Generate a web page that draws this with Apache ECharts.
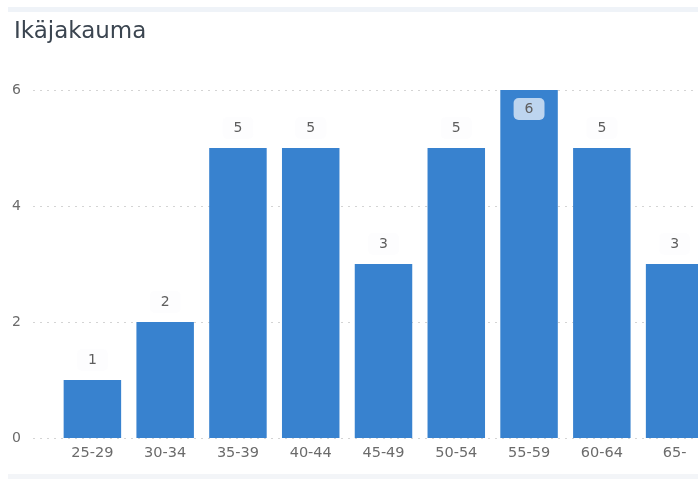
<!DOCTYPE html>
<html>
<head>
<meta charset="utf-8">
<script src="https://cdn.jsdelivr.net/npm/echarts@6/dist/echarts.min.js"></script>
<style>html,body{margin:0;padding:0;background:#fff;}#c{width:698px;height:479px;}</style>
</head>
<body>
<div id="c"></div>
<script>
const titleText = 'Ikäjakauma';
const categories = ['25-29','30-34','35-39','40-44','45-49','50-54','55-59','60-64','65-'];
const counts = [1, 2, 5, 5, 3, 5, 6, 5, 3];
const yTicks = [0, 2, 4, 6];

const font = 'DejaVu Sans';
const maxVal = Math.max(...counts);
const chart = echarts.init(document.getElementById('c'), null, {renderer: 'canvas'});
chart.setOption({
  animation: false,
  backgroundColor: '#fff',
  title: {
    text: titleText, left: 9, top: 16,
    textStyle: {fontFamily: font, fontSize: 23, fontWeight: 'normal', color: '#3b4550'}
  },
  graphic: [
    {type: 'rect', shape: {x: 8, y: 7, width: 690, height: 5}, style: {fill: '#eff3f8'}},
    {type: 'rect', shape: {x: 8, y: 474, width: 690, height: 5}, style: {fill: '#f3f5f8'}}
  ],
  grid: [
    {left: 33, right: 0, top: 90, bottom: 41, outerBoundsMode: 'none'},
    {left: 56, width: 655, top: 90, bottom: 41, outerBoundsMode: 'none'}
  ],
  xAxis: [
    {gridIndex: 0, type: 'value', min: 0, max: 1, show: false},
    {gridIndex: 1, type: 'category', data: categories,
     axisLine: {show: false}, axisTick: {show: false},
     axisLabel: {fontFamily: font, fontSize: 14.5, color: '#6b6b6b', margin: 8}}
  ],
  yAxis: [
    {gridIndex: 0, type: 'value', min: yTicks[0], max: yTicks[yTicks.length-1], interval: 2,
     axisLine: {show: false}, axisTick: {show: false},
     axisLabel: {fontFamily: font, fontSize: 14, color: '#6b6b6b', margin: 12},
     splitLine: {lineStyle: {color: '#d4d4d4', type: [2, 5], width: 1}}},
    {gridIndex: 1, type: 'value', min: yTicks[0], max: yTicks[yTicks.length-1], interval: 2, show: false,
     splitLine: {show: false}}
  ],
  series: [{
    type: 'bar', xAxisIndex: 1, yAxisIndex: 1,
    barCategoryGap: '21%',
    itemStyle: {color: '#3882cf'},
    data: counts.map(v => ({
      value: v,
      label: v === maxVal
        ? {position: 'insideTop', distance: 8}
        : {position: 'top', distance: 9}
    })),
    label: {
      show: true, fontFamily: font, fontSize: 14, color: '#5e5e5e',
      backgroundColor: 'rgba(252,252,253,0.68)', borderRadius: 5, padding: [4, 11]
    }
  }]
});
</script>
</body>
</html>
